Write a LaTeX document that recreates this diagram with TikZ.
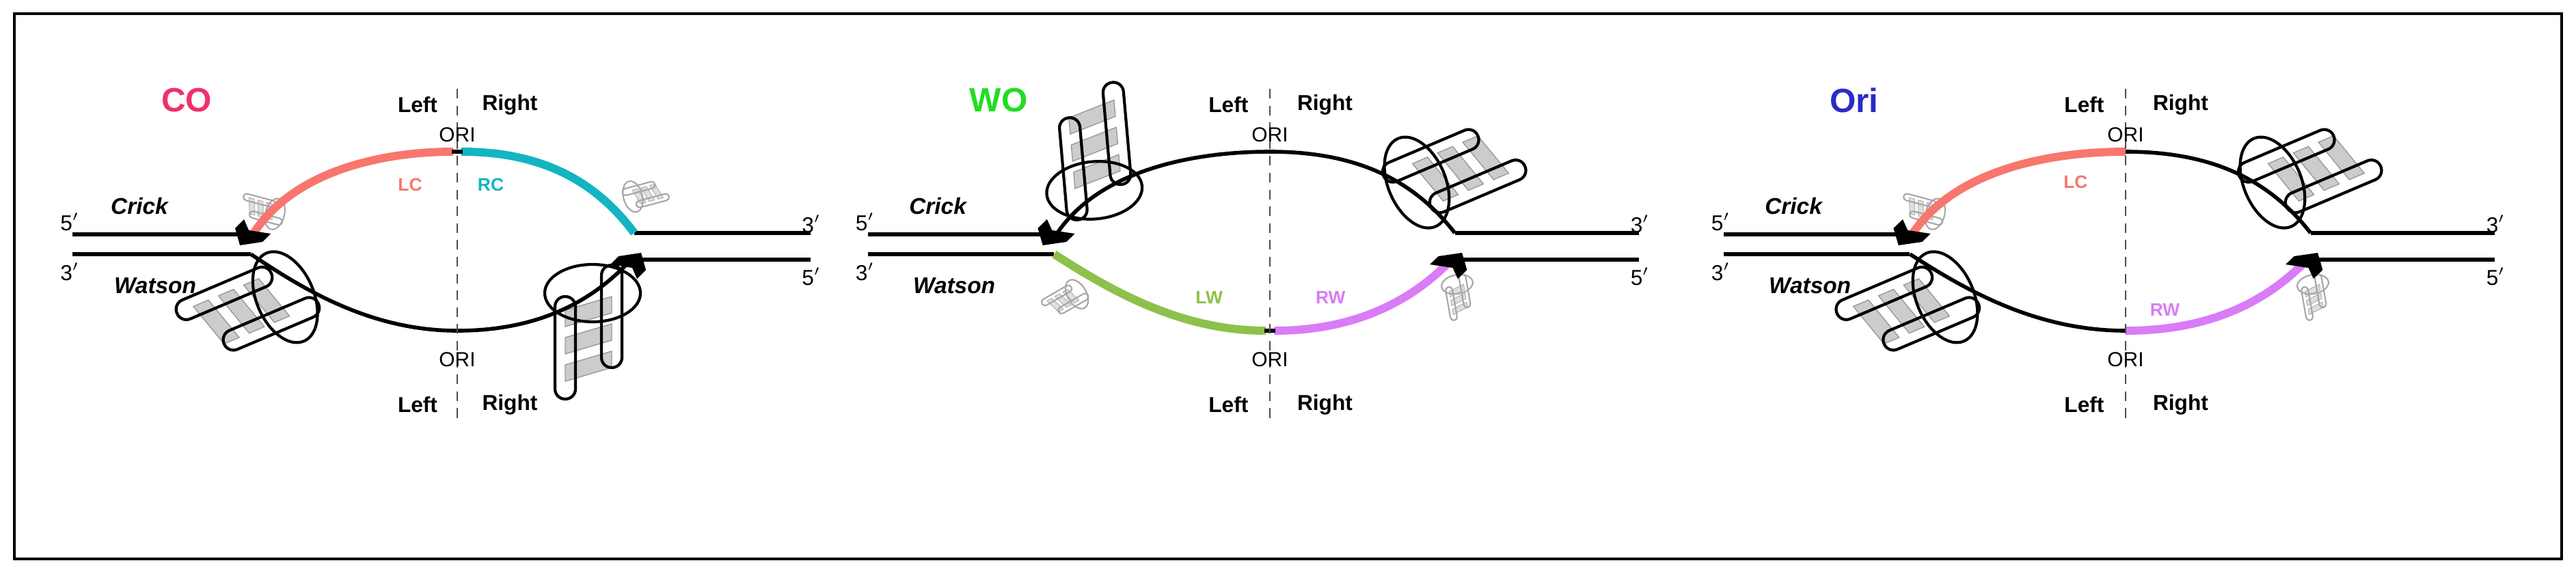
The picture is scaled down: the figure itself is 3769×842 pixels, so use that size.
\documentclass[tikz,border=0pt]{standalone}
\usepackage{fontspec}
\setmainfont{Liberation Sans}
\begin{document}
\definecolor{cLC}{HTML}{F8766D}
\definecolor{cRC}{HTML}{13B5C0}
\definecolor{cLW}{HTML}{8DC14C}
\definecolor{cRW}{HTML}{D97CF6}
\definecolor{cCO}{HTML}{F0306A}
\definecolor{cWO}{HTML}{22DD22}
\definecolor{cOri}{HTML}{2A2AC8}
\tikzset{
  strand/.style={line width=1.6pt},
  arcblk/.style={line width=1.6pt},
  arccol/.style={line width=3.4pt},
  mid/.style={dash pattern=on 4pt off 3pt, line width=.6pt, black!70},
  lab/.style={font=\fontsize{9}{10}\selectfont\bfseries, inner sep=0pt},
  ori/.style={font=\fontsize{8.5}{10}\selectfont, inner sep=0pt},
  end/.style={font=\fontsize{9}{10}\selectfont, inner sep=0pt},
  strandname/.style={font=\fontsize{9.5}{10}\selectfont\bfseries\itshape, inner sep=0pt},
  title/.style={font=\fontsize{14}{16}\selectfont\bfseries, inner sep=0pt},
  seg/.style={font=\fontsize{7.5}{9}\selectfont\bfseries, inner sep=0pt},
  heli/.pic={
    \foreach \q in {20,60,100}{
      \filldraw[fill=gray!40, draw=gray!80, line width=.4pt] (\q,0)--(\q+24,0)--(\q+4,-68)--(\q-20,-68)--cycle;
    }
    \draw[line width=1.2pt, rounded corners=4.2pt] (0,-15) rectangle (150,15);
    \draw[line width=1.2pt, rounded corners=4.2pt] (-46,-83) rectangle (104,-53);
    \draw[line width=1.2pt] (-5,-40) ellipse [x radius=42, y radius=70];
  },
  sheli/.pic={
    \begin{scope}[scale=.33]
    \foreach \q in {20,60,100}{
      \filldraw[fill=gray!25, draw=gray!60, line width=.3pt] (\q,0)--(\q+24,0)--(\q+4,-68)--(\q-20,-68)--cycle;
    }
    \draw[gray!70, line width=.6pt, rounded corners=1.4pt] (0,-15) rectangle (150,15);
    \draw[gray!70, line width=.6pt, rounded corners=1.4pt] (-46,-83) rectangle (104,-53);
    \draw[gray!70, line width=.6pt] (-5,-40) ellipse [x radius=42, y radius=70];
    \end{scope}
  }
}
\begin{tikzpicture}[x=0.1mm, y=-0.1mm]
\useasboundingbox (0,0) rectangle (3769,842);
\draw[line width=1.3pt] (21,20) rectangle (3748,818);

% Panel 1: CO
\begin{scope}[shift={(669,0)}]
  \pic[rotate=-157] at (-272,400) {heli};
  \pic[rotate=-90] at (158,434) {heli};
  \pic[rotate=-195] at (-265,300) {sheli};
  \pic[rotate=15] at (262,300) {sheli};
  \draw[strand] (-563,343) -- (-299,343);
  \draw[strand] (259,341) -- (517,341);
  \draw[strand] (-563,372) -- (-302,372);
  \draw[strand] (262,380) -- (517,380);
  \draw[arcblk] (-302,372) .. controls (-230,420) and (-130,484) .. (0,484) .. controls (120,484) and (200,440) .. (256,378);
  \draw[arccol, cLC] (-299,343) .. controls (-240,250) and (-110,222) .. (-6,222);
  \draw[arccol, cRC] (6,222) .. controls (120,222) and (200,262) .. (259,341);
  \draw[arcblk] (-8,222) -- (8,222);
  \fill (224,387)--(236,375)--(269,370)--(276,395)--(263,408)--(256,392)--cycle;
  \fill (-273,342)--(-285,354)--(-318,359)--(-325,334)--(-312,321)--(-305,337)--cycle;
  \draw[mid] (0,130) -- (0,612);
  \node[title, cCO] (t1) at (-396,147) {CO};
  \node[lab] (l1a) at (-58,153) {Left};
  \node[lab] (r1a) at (77,153) {Right};
  \node[ori] (o1a) at (0,197) {ORI};
  \node[ori] (o1b) at (0,526) {ORI};
  \node[lab] (l1b) at (-58,592) {Left};
  \node[lab] (r1b) at (77,592) {Right};
  \node[seg, cLC] (s1a) at (-69,270) {LC};
  \node[seg, cRC] (s1b) at (49,270) {RC};
  \node[end] (e1a) at (-567,325) {5$'$};
  \node[end] (e1b) at (-567,398) {3$'$};
  \node[end] (e1c) at (518,328) {3$'$};
  \node[end] (e1d) at (518,405) {5$'$};
  \node[strandname] (c1) at (-465,302) {Crick};
  \node[strandname] (w1) at (-442,418) {Watson};
\end{scope}

% Panel 2: WO
\begin{scope}[shift={(1858,0)}, xscale=1.045]
  \pic[rotate=95] at (-208,270) {heli};
  \pic[rotate=23] at (225,302) {heli};
  \pic[rotate=-150] at (-278,420) {sheli};
  \pic[rotate=-80] at (250,420) {sheli};
  \draw[strand] (-563,343) -- (-299,343);
  \draw[strand] (259,341) -- (517,341);
  \draw[strand] (-563,372) -- (-302,372);
  \draw[strand] (262,380) -- (517,380);
  \draw[arcblk] (-299,343) .. controls (-240,250) and (-110,222) .. (0,222) .. controls (120,222) and (200,262) .. (259,341);
  \draw[arccol, cLW] (-302,372) .. controls (-230,420) and (-130,484) .. (-6,484);
  \draw[arccol, cRW] (6,484) .. controls (120,484) and (200,440) .. (256,378);
  \draw[arcblk] (-8,484) -- (8,484);
  \fill (224,387)--(236,375)--(269,370)--(276,395)--(263,408)--(256,392)--cycle;
  \fill (-273,342)--(-285,354)--(-318,359)--(-325,334)--(-312,321)--(-305,337)--cycle;
  \draw[mid] (0,130) -- (0,612);
  \node[title, cWO] (t2) at (-380,147) {WO};
  \node[lab] (l2a) at (-58,153) {Left};
  \node[lab] (r2a) at (77,153) {Right};
  \node[ori] (o2a) at (0,197) {ORI};
  \node[ori] (o2b) at (0,526) {ORI};
  \node[lab] (l2b) at (-58,592) {Left};
  \node[lab] (r2b) at (77,592) {Right};
  \node[seg, cLW] (s2a) at (-85,435) {LW};
  \node[seg, cRW] (s2b) at (85,435) {RW};
  \node[end] (e2a) at (-567,325) {5$'$};
  \node[end] (e2b) at (-567,398) {3$'$};
  \node[end] (e2c) at (518,328) {3$'$};
  \node[end] (e2d) at (518,405) {5$'$};
  \node[strandname] (c2) at (-465,302) {Crick};
  \node[strandname] (w2) at (-442,418) {Watson};
\end{scope}

% Panel 3: Ori
\begin{scope}[shift={(3110,0)}, xscale=1.045]
  \pic[rotate=-157] at (-272,400) {heli};
  \pic[rotate=23] at (225,302) {heli};
  \pic[rotate=-195] at (-265,300) {sheli};
  \pic[rotate=-80] at (250,420) {sheli};
  \draw[strand] (-563,343) -- (-299,343);
  \draw[strand] (259,341) -- (517,341);
  \draw[strand] (-563,372) -- (-302,372);
  \draw[strand] (262,380) -- (517,380);
  \draw[arccol, cLC] (-299,343) .. controls (-240,250) and (-110,222) .. (0,222);
  \draw[arcblk] (0,222) .. controls (120,222) and (200,262) .. (259,341);
  \draw[arcblk] (-302,372) .. controls (-230,420) and (-130,484) .. (0,484);
  \draw[arccol, cRW] (0,484) .. controls (120,484) and (200,440) .. (256,378);
  \fill (224,387)--(236,375)--(269,370)--(276,395)--(263,408)--(256,392)--cycle;
  \fill (-273,342)--(-285,354)--(-318,359)--(-325,334)--(-312,321)--(-305,337)--cycle;
  \draw[mid] (0,130) -- (0,612);
  \node[title, cOri] (t3) at (-380,147) {Ori};
  \node[lab] (l3a) at (-58,153) {Left};
  \node[lab] (r3a) at (77,153) {Right};
  \node[ori] (o3a) at (0,197) {ORI};
  \node[ori] (o3b) at (0,526) {ORI};
  \node[lab] (l3b) at (-58,592) {Left};
  \node[lab] (r3b) at (77,592) {Right};
  \node[seg, cLC] (s3a) at (-70,266) {LC};
  \node[seg, cRW] (s3b) at (55,453) {RW};
  \node[end] (e3a) at (-567,325) {5$'$};
  \node[end] (e3b) at (-567,398) {3$'$};
  \node[end] (e3c) at (518,328) {3$'$};
  \node[end] (e3d) at (518,405) {5$'$};
  \node[strandname] (c3) at (-465,302) {Crick};
  \node[strandname] (w3) at (-442,418) {Watson};
\end{scope}
\end{tikzpicture}
\end{document}
